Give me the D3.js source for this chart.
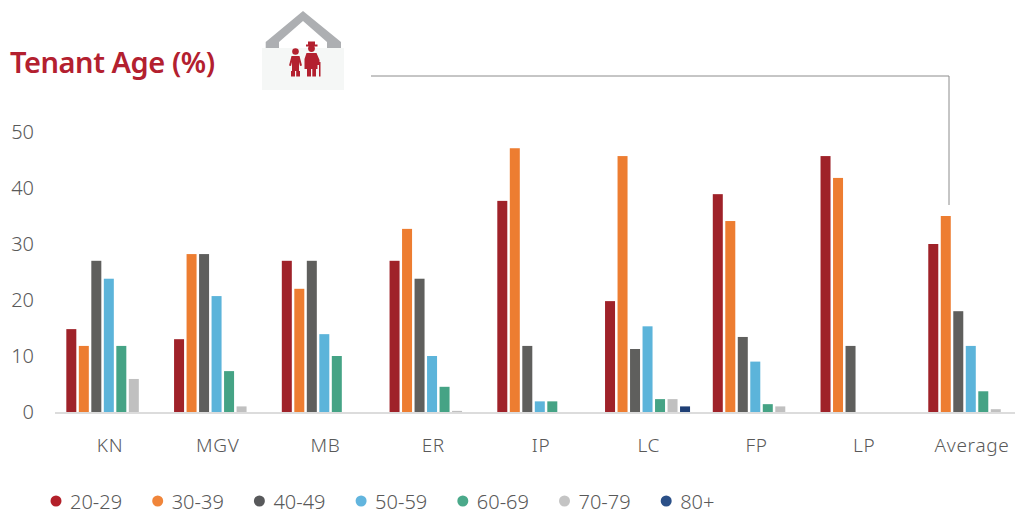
<!DOCTYPE html>
<html lang="en">
  <head>
    <meta charset="utf-8" />
    <script src="https://d3js.org/d3.v7.min.js"></script>
    <style>
      html, body { margin: 0; padding: 0; background: #fff; }
      svg { display: block; }
      text { font-family: "Noto Sans", sans-serif; font-weight: 300; fill: #595959; }
      .axis .domain, .axis line { display: none; }
    </style>
    <title>Tenant Age</title>
  </head>
  <body>
    <svg id="chart" width="1015" height="509"></svg>
    <script>
      const categories = ["KN", "MGV", "MB", "ER", "IP", "LC", "FP", "LP", "Average"];
      const ageGroups = ["20-29", "30-39", "40-49", "50-59", "60-69", "70-79", "80+"];
      const colors = ["#9f2229", "#ed7d31", "#5f5f5d", "#5cb4da", "#45a385", "#c0c0c0", "#1f3f75"];
      const legendColors = ["#b3202a", "#f0853a", "#58595b", "#62b5de", "#4aa98a", "#c4c4c4", "#2b5088"];
      const yTicks = [0, 10, 20, 30, 40, 50];

      const age2029 = [14.8, 13, 27, 27, 37.7, 19.8, 38.9, 45.7, 30];
      const age3039 = [11.8, 28.2, 22, 32.7, 47.1, 45.7, 34.1, 41.8, 35];
      const age4049 = [27, 28.2, 27, 23.8, 11.8, 11.25, 13.4, 11.8, 18];
      const age5059 = [23.8, 20.7, 13.9, 10, 1.9, 15.3, 9, 0, 11.8];
      const age6069 = [11.8, 7.3, 10, 4.5, 1.9, 2.3, 1.4, 0, 3.7];
      const age7079 = [5.9, 1, 0, 0.2, 0, 2.3, 1, 0, 0.5];
      const age80 = [0, 0, 0, 0, 0, 1, 0, 0, 0];
      const series = [age2029, age3039, age4049, age5059, age6069, age7079, age80];

      const svg = d3.select("#chart");
      const baseline = 412;

      const x = d3.scaleBand().domain(categories).range([56.2, 1025.9]);
      const xInner = d3.scaleBand().domain(ageGroups)
        .range([(x.bandwidth() - 87.5) / 2, (x.bandwidth() + 87.5) / 2]);
      const y = d3.scaleLinear().domain([0, 50]).range([baseline, 132]);

      // bars
      const groups = svg.append("g").selectAll("g")
        .data(categories)
        .join("g")
        .attr("transform", d => `translate(${x(d)},0)`);

      groups.selectAll("rect")
        .data((d, i) => ageGroups.map((g, j) => ({ g, j, v: series[j][i] })).filter(b => b.v > 0))
        .join("rect")
        .attr("x", d => xInner(d.g))
        .attr("width", xInner.bandwidth() - 2.5)
        .attr("y", d => y(d.v))
        .attr("height", d => y(0) - y(d.v))
        .attr("fill", d => colors[d.j]);

      // baseline
      svg.append("line")
        .attr("x1", 55).attr("x2", 1015)
        .attr("y1", baseline + 1).attr("y2", baseline + 1)
        .attr("stroke", "#dcdcdc").attr("stroke-width", 2);

      // axes
      const yAxis = svg.append("g").attr("class", "axis")
        .attr("transform", "translate(34,0)")
        .call(d3.axisLeft(y).tickValues(yTicks).tickSize(0).tickPadding(0));
      yAxis.selectAll("text").attr("font-size", 20);

      const xAxis = svg.append("g").attr("class", "axis")
        .attr("transform", "translate(0,438)")
        .call(d3.axisBottom(x).tickSize(0).tickPadding(0));
      xAxis.selectAll("text").attr("font-size", 19).attr("letter-spacing", 0.7);

      // title
      svg.append("text").attr("x", 10).attr("y", 73)
        .attr("font-size", 29).attr("letter-spacing", -0.45)
        .style("font-weight", 600).style("fill", "#b3202f")
        .text("Tenant Age (%)");

      // leader line
      svg.append("path")
        .attr("d", "M371,76H949V205")
        .attr("fill", "none").attr("stroke", "#8c8c8c").attr("stroke-width", 1);

      // house icon
      const icon = svg.append("g");
      icon.append("path")
        .attr("d", "M265.7,42V48H279V42L303,21L327,42V48H341V42L303,11Z")
        .attr("fill", "#adafb2");
      icon.append("rect").attr("x", 262).attr("y", 48).attr("width", 82).attr("height", 42).attr("fill", "#f5f7f6");
      const people = icon.append("g").attr("fill", "#b3202f");
      // child
      people.append("circle").attr("cx", 295.5).attr("cy", 51.5).attr("r", 3.3);
      people.append("path").attr("d", "M291.5,56H299.5L302,65.5L300,66L299,62V71H300V76.5H296.2V71H295V76.5H291V71H292V62L291,66L289,65.5Z");
      // adult with hat and stick
      people.append("path").attr("d", "M306,44.5H308V41.5H315V44.5H317.5V46.5H306Z");
      people.append("circle").attr("cx", 311.5).attr("cy", 48.5).attr("r", 3.4);
      people.append("path").attr("d", "M306.5,53H316.5L319.5,60V65H317.5V69H316V76.5H312.3V69H311V76.5H307V69H304.5V59Z");
      people.append("path").attr("d", "M318.5,62H320.5V76.5H319V64H318.5Z");

      // legend
      const legend = svg.append("g").selectAll("g")
        .data(ageGroups)
        .join("g")
        .attr("transform", (d, i) => `translate(${56 + i * 101.7},501)`);
      legend.append("circle").attr("r", 5.5).attr("fill", (d, i) => legendColors[i]);
      legend.append("text").attr("x", 14).attr("y", 7.5).attr("font-size", 20).text(d => d);
    </script>
  </body>
</html>
